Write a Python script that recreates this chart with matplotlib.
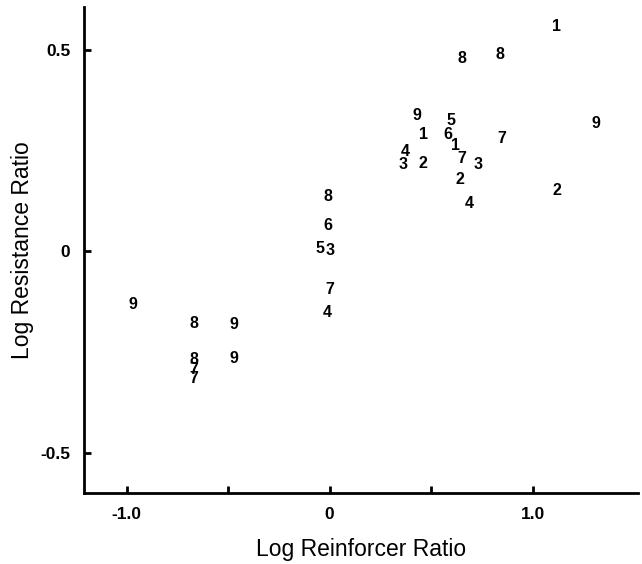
import matplotlib.pyplot as plt

# Subject numbers used as plotting symbols
subjects = ['1', '8', '8', '9', '5', '1', '6', '1', '7', '9',
            '4', '3', '2', '7', '3', '2', '4', '2',
            '8', '6', '5', '3', '7', '4',
            '9', '8', '9', '8', '9', '7', '7']
log_reinf = [1.12, 0.65, 0.84, 0.43, 0.60, 0.46, 0.58, 0.62, 0.85, 1.31,
             0.37, 0.36, 0.46, 0.65, 0.73, 0.64, 0.69, 1.12,
             -0.01, -0.01, -0.05, 0.0, 0.0, -0.01,
             -0.97, -0.67, -0.47, -0.67, -0.47, -0.67, -0.67]
log_resist = [0.557, 0.479, 0.488, 0.337, 0.324, 0.289, 0.289, 0.262, 0.280, 0.316,
              0.247, 0.216, 0.219, 0.231, 0.216, 0.179, 0.119, 0.150,
              0.136, 0.063, 0.007, 0.001, -0.096, -0.151,
              -0.132, -0.179, -0.182, -0.269, -0.267, -0.294, -0.317]

x_ticks = [-1.0, -0.5, 0, 0.5, 1.0]
x_ticklabels = ['-1.0', '', '0', '', '1.0']
y_ticks = [0.5, 0, -0.5]
y_ticklabels = ['0.5', '0', '-0.5']

plt.rcParams['font.family'] = ['Liberation Sans', 'DejaVu Sans']

fig = plt.figure(figsize=(6.42, 5.64), dpi=100)
ax = fig.add_axes([0.131, 0.126, 0.863, 0.862])

for s, x, y in zip(subjects, log_reinf, log_resist):
    ax.text(x, y, s, ha='center', va='center', fontsize=11.5, fontweight='bold')

ax.set_xlim(-1.21, 1.52)
ax.set_ylim(-0.60, 0.607)

ax.spines['top'].set_visible(False)
ax.spines['right'].set_visible(False)
ax.spines['left'].set_linewidth(2)
ax.spines['bottom'].set_linewidth(2)

ax.set_xticks(x_ticks)
ax.set_xticklabels(x_ticklabels, fontsize=12.5, fontweight='bold')
ax.set_yticks(y_ticks)
ax.set_yticklabels(y_ticklabels, fontsize=12.5, fontweight='bold')
ax.tick_params(direction='in', length=5, width=2)
ax.tick_params(axis='x', pad=10)
ax.tick_params(axis='y', pad=10)

ax.set_xlabel('Log Reinforcer Ratio', fontsize=16.5, va='center')
ax.set_ylabel('Log Resistance Ratio', fontsize=16.5, va='center')
ax.xaxis.set_label_coords(0.499, -0.117)
ax.yaxis.set_label_coords(-0.112, 0.5)

fig.savefig('out.png', dpi=100)
